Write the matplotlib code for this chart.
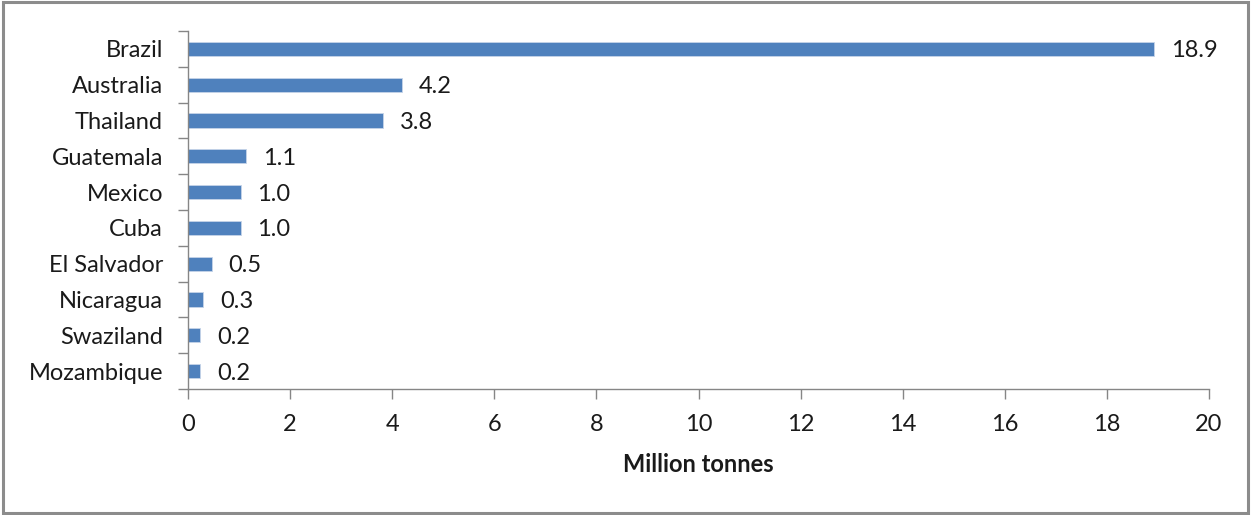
import numpy as np
import matplotlib
matplotlib.use('Agg')
import matplotlib.pyplot as plt
from matplotlib.patches import Rectangle

plt.rcParams['font.family'] = ['Lato', 'DejaVu Sans']

# 數據
countries = ['Brazil', 'Australia', 'Thailand', 'Guatemala', 'Mexico',
             'Cuba', 'El Salvador', 'Nicaragua', 'Swaziland', 'Mozambique']
values = [18.92, 4.19, 3.82, 1.14, 1.03, 1.03, 0.47, 0.30, 0.24, 0.24]
xticks = [0, 2, 4, 6, 8, 10, 12, 14, 16, 18, 20]

bar_color = '#4F81BD'
axis_color = '#868686'
text_color = '#1a1a1a'
fs = 17

fig = plt.figure(figsize=(12.51, 5.15), dpi=100)
ax = fig.add_axes([188 / 1251, 1 - 389 / 515, (1209 - 188) / 1251, (389 - 31) / 515])

y = np.arange(len(countries))
ax.barh(y, values, height=0.4, color=bar_color, edgecolor='#c6d4e8', linewidth=0.6)

# 數值標籤
for yi, v in zip(y, values):
    ax.annotate(f"{v:.1f}", xy=(v, yi), xytext=(12, -1.5), textcoords='offset points',
                va='center', ha='left', fontsize=fs, color=text_color)

ax.set_xlim(0, 20)
ax.set_ylim(len(countries) - 0.5, -0.5)
ax.set_xticks(xticks)
ax.set_xticklabels([str(t) for t in xticks])
ax.set_yticks(np.arange(len(countries) + 1) - 0.5, minor=False)
ax.set_yticklabels([])
ax.set_yticks(y, minor=True)
ax.set_yticklabels(countries, minor=True)

ax.tick_params(axis='y', which='major', direction='out', length=7, color=axis_color, width=1)
ax.tick_params(axis='y', which='minor', length=0, pad=18, labelsize=fs, labelcolor=text_color)
ax.tick_params(axis='x', direction='out', length=7, color=axis_color, width=1,
               pad=11, labelsize=fs, labelcolor=text_color)

for s in ['top', 'right']:
    ax.spines[s].set_visible(False)
for s in ['left', 'bottom']:
    ax.spines[s].set_color(axis_color)
    ax.spines[s].set_linewidth(1)

ax.set_xlabel('Million tonnes', fontsize=fs, fontweight='bold', color=text_color, labelpad=13)

# 外框
fig.patches.append(Rectangle((0.002, 0.004), 0.996, 0.992, transform=fig.transFigure,
                             fill=False, edgecolor='#8c8c8c', linewidth=2.2))

fig.savefig('out.png', dpi=100)
